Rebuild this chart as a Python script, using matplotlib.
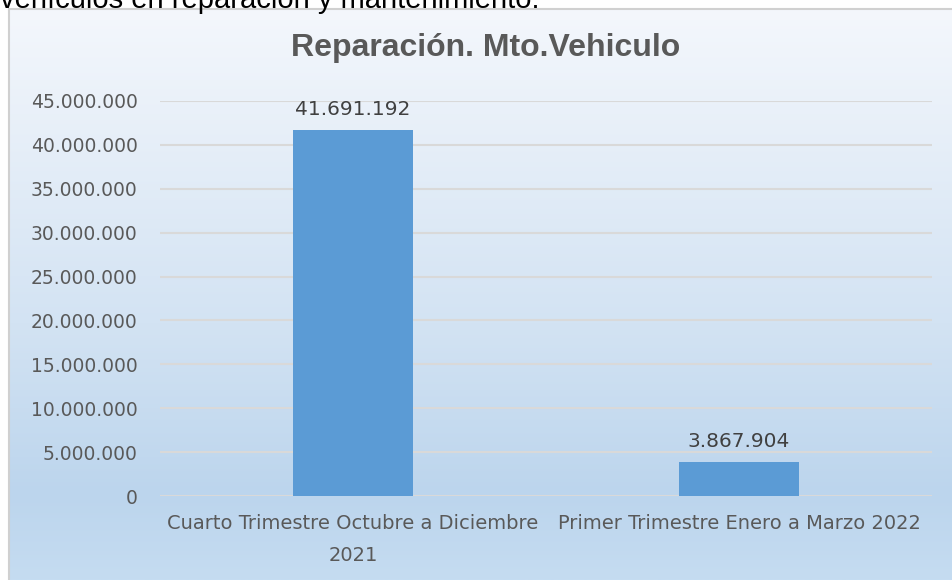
import numpy as np
import matplotlib.pyplot as plt
from matplotlib.colors import LinearSegmentedColormap, to_rgb

categories = ['Cuarto Trimestre Octubre a Diciembre\n2021',
              'Primer Trimestre Enero a Marzo 2022']
values = [41691192, 3867904]
value_labels = ['41.691.192', '3.867.904']
yticks = [0, 5000000, 10000000, 15000000, 20000000, 25000000,
          30000000, 35000000, 40000000, 45000000]
title = 'Reparación. Mto.Vehiculo'
header = 'vehículos en reparación y mantenimiento.'

W, H = 953, 580
fig = plt.figure(figsize=(W / 100, H / 100), dpi=100)
fig.patch.set_facecolor('white')

# clipped line of text above the chart (cut off in the reference too)
fig.text(0 / W, 1 - 8 / H, header, fontsize=21, family='Liberation Sans',
         color='black', va='baseline', ha='left')

# chart box with gradient fill
bg = fig.add_axes([9 / W, 0, (W - 9) / W, (H - 9) / H])
cmap = LinearSegmentedColormap.from_list(
    'g', [(0, to_rgb('#f4f7fc')), (0.55, to_rgb('#d3e3f3')),
          (0.85, to_rgb('#bcd5ed')), (1, to_rgb('#c5dcf1'))])
grad = np.linspace(0, 1, 256).reshape(-1, 1)
bg.imshow(grad, aspect='auto', cmap=cmap, extent=[0, 1, 0, 1], origin='upper')
bg.set_xticks([])
bg.set_yticks([])
for s in bg.spines.values():
    s.set_color('#d0d0d0')
    s.set_linewidth(1.5)
bg.spines['right'].set_visible(False)
bg.spines['bottom'].set_visible(False)

fig.text(486 / W, 1 - 48 / H, title, fontsize=23, fontweight='bold',
         family='Liberation Sans', color='#595959', ha='center', va='center')

ax = fig.add_axes([160 / W, 1 - 496 / H, 772 / W, 395 / H])
ax.patch.set_alpha(0)
x = np.arange(len(categories))
ax.bar(x, values, width=0.31, color='#5b9bd5', zorder=3)
for xi, v, lab in zip(x, values, value_labels):
    ax.text(xi, v + 1300000, lab, ha='center', va='bottom',
            fontsize=14.5, color='#404040')

ax.set_xlim(-0.5, 1.5)
ax.set_ylim(0, 45000000)
ax.set_yticks(yticks)
ax.set_yticklabels(['0'] + [f'{t:,}'.replace(',', '.') for t in yticks[1:]])
ax.set_xticks(x)
ax.set_xticklabels(categories, fontsize=14, color='#595959', linespacing=1.85)
ax.tick_params(axis='y', labelsize=13.5, labelcolor='#595959', length=0, pad=16)
ax.tick_params(axis='x', length=0, pad=13)
ax.grid(axis='y', color='#d9d9d9', linewidth=1.5, zorder=0)
for s in ax.spines.values():
    s.set_visible(False)

fig.savefig('out.png', dpi=100)
